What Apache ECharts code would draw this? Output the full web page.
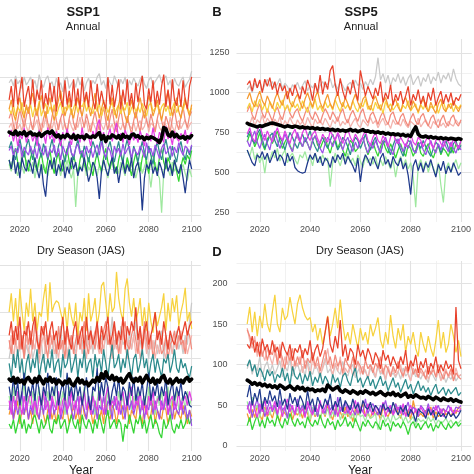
<!DOCTYPE html>
<html><head><meta charset="utf-8">
<script src="https://cdn.jsdelivr.net/npm/echarts@6/dist/echarts.min.js"></script>
<style>html,body{margin:0;padding:0;background:#fff}#c{width:474px;height:474px}</style>
</head><body><div id="c"></div>
<script>
const years = [2015,2016,2017,2018,2019,2020,2021,2022,2023,2024,
2025,2026,2027,2028,2029,2030,2031,2032,2033,2034,
2035,2036,2037,2038,2039,2040,2041,2042,2043,2044,
2045,2046,2047,2048,2049,2050,2051,2052,2053,2054,
2055,2056,2057,2058,2059,2060,2061,2062,2063,2064,
2065,2066,2067,2068,2069,2070,2071,2072,2073,2074,
2075,2076,2077,2078,2079,2080,2081,2082,2083,2084,
2085,2086,2087,2088,2089,2090,2091,2092,2093,2094,
2095,2096,2097,2098,2099,2100];

const xMajorTicks = [2020,2040,2060,2080,2100];
const xMinorTicks = [2030,2050,2070,2090];
const aMajorTicks = [400,600,800,1000];
const aMinorTicks = [500,700,900,1100];
const bMajorTicks = [250,500,750,1000,1250];
const bMinorTicks = [375,625,875,1125];
const cMajorTicks = [50,100,150,200];
const cMinorTicks = [25,75,125,175];
const dMajorTicks = [0,50,100,150,200];
const dMinorTicks = [25,75,125,175,225];

// ---------- Panel A: SSP1 Annual ----------
const A_grey = [975,990,960,1005,970,985,950,1000,965,980, 1000,960,985,945,1010,970,955,990,1005,965, 980,945,995,960,975,935,990,1000,950,970, 985,955,1000,965,990,940,975,995,960,985, 970,1000,1015,965,985,950,995,975,960,1005, 980,955,990,970,1000,945,985,965,995,975, 960,990,1005,970,950,985,1000,960,980,995, 1010,975,990,1005,965,985,950,995,970,960, 985,1000,955,975,990,1025];
const A_red = [900,960,870,990,880,940,1000,870,920,960, 880,990,870,945,900,985,860,930,880,975, 890,960,850,1000,905,870,985,880,940,870, 990,875,950,860,1000,890,935,870,985,900, 860,970,880,940,890,860,1000,880,965,870, 925,990,860,945,880,990,875,930,860,975, 890,955,1005,880,860,950,890,985,870,940, 880,960,1010,870,945,860,990,900,875,950, 870,985,900,860,960,1000];
const A_orange = [860,900,840,810,870,910,850,820,880,840, 900,930,870,830,880,920,860,820,870,910, 850,810,860,900,940,880,830,870,910,850, 820,870,910,860,830,880,920,870,830,880, 930,870,820,860,900,850,810,870,910,860, 820,880,920,870,830,800,860,900,850,820, 870,910,860,820,870,920,880,830,860,900, 850,810,860,900,940,880,830,870,910,850, 820,870,910,860,830,880];
const A_gold = [860,840,880,830,870,850,890,835,865,845, 880,825,870,850,895,830,860,885,840,870, 850,880,830,865,890,840,870,855,880,835, 865,890,845,880,870,895,850,880,860,840, 875,850,885,830,865,880,845,870,890,835, 860,880,840,870,855,890,835,865,880,850, 870,845,885,860,830,875,890,850,865,880, 840,870,885,850,875,830,865,890,845,870, 880,855,890,870,845,865];
const A_salmon = [820,850,790,760,810,860,820,780,830,870, 810,770,830,860,800,760,820,850,800,770, 830,870,810,770,820,850,790,760,820,860, 800,770,830,880,820,780,840,800,760,810, 850,800,770,830,870,810,770,820,860,800, 760,820,860,800,770,830,790,750,810,850, 800,760,820,860,810,780,840,800,760,820, 860,810,770,830,800,760,820,860,800,770, 830,870,810,780,830,850];
const A_pink = [780,800,760,810,775,795,765,820,785,760, 805,770,790,815,760,800,780,825,770,795, 775,810,760,790,820,770,800,760,815,785, 765,800,780,825,770,795,810,760,790,805, 780,760,815,790,770,800,830,775,795,760, 810,785,770,800,760,820,790,775,805,765, 795,810,770,785,820,760,800,790,770,815, 780,765,805,790,770,825,785,760,800,810, 775,795,815,770,790,805];
const A_magenta = [740,770,720,760,700,750,730,780,715,745, 760,720,750,700,770,735,755,710,780,730, 750,715,765,740,700,760,725,775,735,705, 760,730,745,715,780,720,755,740,700,765, 735,790,815,730,760,710,745,775,720,760, 800,730,755,715,770,740,705,760,725,750, 715,765,735,700,755,745,720,780,730,710, 760,740,715,785,730,750,705,765,735,720, 755,730,770,710,745,760];
const A_purple = [680,700,655,690,670,710,650,695,675,660, 700,665,690,645,710,680,660,700,650,685, 670,705,655,690,640,700,675,660,715,670, 655,690,710,665,680,645,700,670,690,650, 685,705,660,720,675,650,695,680,640,700, 670,690,655,710,665,685,700,645,690,675, 660,700,680,650,715,670,690,655,705,675, 645,690,710,665,680,700,655,695,670,715, 680,660,700,690,670,705];
const A_teal = [690,720,670,640,690,730,680,650,700,730, 680,640,700,740,690,650,710,680,640,690, 730,680,650,700,730,670,630,680,720,670, 640,690,730,680,650,700,670,630,680,720, 690,650,700,740,680,640,690,720,670,630, 680,720,660,630,690,730,680,640,700,670, 630,680,720,670,640,700,660,620,680,720, 670,640,690,730,680,640,700,660,630,690, 720,670,640,690,660,700];
const A_navy = [640,600,660,580,630,560,650,610,590,640, 620,580,650,600,560,620,530,480,590,640, 600,650,570,620,590,640,560,610,580,650, 600,630,570,610,590,650,600,545,580,630, 610,560,470,590,640,600,570,620,650,580, 610,540,600,640,580,620,590,650,560,610, 630,580,420,560,620,600,640,580,610,570, 630,600,560,650,590,620,570,640,600,580, 620,560,495,580,640,600];
const A_green = [640,600,660,690,630,600,650,680,620,590, 650,680,620,590,640,670,610,580,640,680, 620,580,640,670,610,590,650,690,630,600, 660,620,580,640,680,620,590,650,610,570, 630,670,620,590,650,690,630,600,650,610, 580,640,680,620,590,650,610,570,630,670, 620,590,650,680,620,580,640,670,610,590, 650,690,630,600,650,620,580,640,590,545, 610,650,620,660,640,680];
const A_lightgreen = [620,590,640,600,570,630,610,580,640,600, 590,630,560,610,640,580,620,600,570,630, 600,640,580,610,570,620,600,640,590,560, 600,435,580,620,600,640,570,610,590,630, 600,570,620,580,640,600,560,610,630,590, 610,580,630,600,570,640,590,620,600,560, 600,630,580,610,640,590,520,600,630,580, 560,410,590,620,600,570,630,590,610,580, 600,620,580,550,600,565];
const A_mean = [760,755,750,765,748,758,752,762,745,755, 760,748,752,745,756,742,750,758,762,755, 765,750,740,748,735,745,738,750,742,735, 748,730,745,738,742,732,748,740,736,744, 738,750,758,730,745,720,740,735,748,742, 735,745,730,750,738,742,733,748,752,740, 745,735,740,728,738,732,740,736,730,725, 715,735,780,775,748,742,760,740,750,738, 735,742,730,740,735,745];

// ---------- Panel B: SSP5 Annual ----------
const B_grey = [1020,1045,1000,1060,1030,1075,1010,1050,1085,1040, 1070,1030,1055,1090,1025,1060,1040,1005,1050,1030, 1065,1020,1045,1075,1010,1050,1030,1060,1000,1045, 1070,1035,1055,1090,1030,1060,1020,1075,1045,1010, 1050,1065,1030,1080,1045,1060,1020,1070,1040,1085, 1050,1100,1220,1080,1120,1060,1110,1040,1095,1070, 1120,1060,1100,1045,1090,1115,1050,1080,1105,1040, 1095,1070,1120,1055,1100,1075,1130,1060,1110,1085, 1125,1070,1150,1090,1055,1040];
const B_red = [1050,1075,1010,1090,1030,1080,1000,1085,1040,1095, 1020,1070,990,1060,1010,1045,960,1030,980,1050, 1000,960,1040,990,1080,1030,950,1060,1000,1110, 990,1070,1020,1140,1170,1050,980,1090,1010,960, 1040,990,1080,1010,950,1140,1060,980,1040,1000, 960,1030,980,1070,940,1000,960,1050,920,990, 950,1010,930,980,1040,920,990,950,1020,930, 980,910,1000,950,1030,920,970,1010,930,990, 940,1000,920,970,950,990];
const B_orange = [960,1000,940,910,970,1010,950,920,980,940, 900,960,1000,950,920,980,1010,940,910,960, 990,940,900,960,1000,950,910,970,1010,940, 900,950,990,930,900,960,1000,940,910,970, 930,890,950,990,940,900,960,980,920,890, 950,980,930,890,940,970,920,880,940,960, 910,880,940,970,920,890,950,910,880,930, 960,910,880,940,900,870,930,960,900,880, 930,900,950,910,880,920];
const B_gold = [900,935,880,950,910,960,890,930,875,945, 915,880,940,900,955,890,925,880,945,905, 930,885,950,910,875,940,900,960,890,920, 880,945,905,930,890,955,915,880,940,900, 925,890,950,905,880,935,910,960,895,920, 885,940,900,925,870,945,905,930,890,915, 935,880,920,900,950,885,910,930,870,925, 895,940,880,915,900,935,870,920,945,890, 910,935,880,920,900,925];
const B_salmon = [880,920,860,830,890,930,870,840,900,860, 820,880,910,860,830,890,920,870,840,880, 900,850,820,870,910,860,830,880,850,810, 860,900,870,830,880,850,820,870,900,840, 810,860,890,850,820,870,900,840,810,860, 880,840,800,850,880,830,800,860,880,830, 800,850,870,820,790,840,870,820,800,850, 870,820,790,840,860,810,780,830,860,810, 790,840,860,810,790,830];
const B_pink = [820,800,850,790,830,810,860,795,840,815, 790,835,805,850,780,825,800,845,810,785, 830,800,820,790,845,810,780,835,805,825, 795,840,810,780,830,805,850,790,820,800, 835,785,815,840,800,780,830,810,790,845, 805,825,780,815,840,795,810,775,830,800, 815,790,835,800,780,820,805,790,840,785, 810,830,795,775,820,800,835,790,810,780, 820,800,790,830,805,815];
const B_magenta = [740,780,720,690,760,800,740,700,760,720, 690,740,780,730,700,760,720,680,740,770, 720,690,750,780,730,700,740,760,710,680, 740,710,690,760,730,700,750,720,680,740, 770,720,690,740,710,680,730,760,700,670, 720,750,700,680,730,700,660,720,750,700, 680,720,690,660,710,740,690,670,720,700, 660,700,730,680,650,700,720,680,660,710, 690,660,710,680,650,700];
const B_purple = [700,660,720,760,690,650,700,740,680,640, 720,760,700,650,690,740,700,660,630,700, 750,700,660,720,680,640,700,730,690,650, 620,680,720,700,660,710,740,680,640,690, 720,670,630,690,650,700,720,660,620,680, 650,700,660,620,690,720,670,640,610,680, 710,660,630,680,650,700,640,620,670,690, 640,610,660,700,650,620,680,640,700,660, 630,690,650,620,670,640];
const B_teal = [720,760,700,680,740,770,710,650,690,730, 745,700,660,720,690,640,700,750,720,680, 650,700,740,690,720,760,700,660,630,690, 720,680,650,700,740,690,640,670,720,700, 660,610,680,720,700,650,690,740,680,640, 690,720,660,620,680,700,650,610,670,710, 680,640,600,660,700,690,640,620,680,650, 700,660,630,600,650,690,670,620,660,700, 650,620,680,700,640,670];
const B_navy = [640,600,560,540,610,590,630,580,620,560, 600,640,570,610,590,540,620,570,600,530, 510,500,495,500,560,610,580,620,560,600, 540,590,570,530,600,560,610,580,620,550, 600,570,540,500,590,440,560,610,580,540, 600,560,520,590,620,550,580,530,600,560, 540,590,520,560,480,360,540,580,510,560, 500,560,530,580,520,470,550,510,570,490, 540,500,560,520,480,500];
const B_green = [690,740,720,660,700,750,680,640,710,730, 680,720,760,700,650,690,720,670,630,700, 740,690,660,710,680,640,700,730,670,650, 690,720,660,620,680,710,650,690,640,600, 660,700,680,630,650,690,720,660,610,650, 690,640,600,660,700,650,620,680,640,590, 640,680,630,600,670,650,600,640,690,620, 600,650,680,620,590,640,670,610,650,630, 600,660,620,680,640,700];
const B_lightgreen = [640,600,660,580,620,560,600,495,610,580, 630,590,650,570,610,640,560,600,620,580, 550,610,590,630,570,600,540,620,580,560, 610,570,590,410,560,620,580,540,600,570, 620,560,590,540,610,570,530,600,560,590, 550,600,530,580,540,600,560,520,580,470, 560,600,540,580,520,560,470,280,540,580, 520,570,500,560,530,480,560,420,310,520, 560,500,540,580,520,560];
const B_mean = [808,800,795,790,785,792,788,795,800,806, 810,805,800,796,790,785,792,788,783,790, 786,780,785,778,782,776,780,772,778,770, 775,768,772,765,770,762,768,760,765,758, 762,770,760,765,755,762,768,758,760,752, 756,748,754,745,750,740,746,738,742,735, 740,732,738,728,734,726,760,785,740,725, 722,728,718,724,715,720,712,718,710,715, 708,714,710,706,712,708];

// ---------- Panel C: SSP1 Dry Season (JAS) ----------
const C_gold = [150,170,140,165,135,175,150,130,160,145, 175,140,160,130,150,145,165,180,140,182, 150,158,162,160,150,140,155,130,160,145, 135,160,125,150,140,165,130,170,140,150, 165,135,150,178,182,160,140,170,150,155, 193,165,150,140,175,186,160,145,165,140, 150,165,135,155,130,160,140,128,150,135, 145,155,170,130,160,140,165,150,168,135, 150,160,176,140,150,132];
const C_red = [125,140,115,135,120,145,110,130,125,140, 115,135,145,120,110,135,125,140,115,130, 140,120,130,110,125,145,115,135,120,110, 130,140,115,125,135,110,145,120,130,115, 125,140,110,135,120,130,145,115,125,140, 115,130,120,145,110,135,125,140,130,155, 120,135,110,130,140,115,125,135,150,120, 130,115,140,125,110,130,120,115,125,135, 120,130,140,125,135,140];
const C_salmon = [120,105,130,115,140,110,125,100,135,115, 130,110,140,120,105,125,135,115,100,130, 115,125,105,135,110,120,100,130,115,125, 105,120,130,110,125,140,115,105,130,120, 110,135,120,105,130,140,115,125,110,135, 125,105,120,130,140,115,110,125,135,120, 105,130,115,140,120,110,125,100,115,130, 120,105,110,125,100,115,120,130,110,125, 115,120,105,130,125,110];
const C_pink = [110,125,100,120,105,130,115,100,125,110, 100,120,110,130,95,115,125,105,120,110, 125,105,115,100,120,110,130,100,115,125, 110,100,120,130,105,115,100,125,110,120, 130,115,105,120,110,125,135,115,100,120, 110,125,105,130,115,100,120,110,125,105, 120,100,115,125,105,130,110,120,100,115, 105,125,110,100,120,115,105,125,110,120, 130,110,120,105,115,125];
const C_grey = [100,115,95,120,105,110,125,100,115,105, 120,100,110,130,105,120,95,115,125,105, 110,125,100,115,135,105,120,110,100,125, 115,105,130,110,120,100,125,115,135,105, 120,140,110,125,105,130,115,120,145,110, 125,105,135,115,120,100,130,110,125,140, 110,120,105,130,115,100,125,110,120,105, 115,130,100,120,110,125,105,115,130,110, 120,105,125,115,140,160];
const C_teal = [95,80,105,90,110,85,100,75,95,105, 85,100,90,110,80,95,105,85,100,90, 110,85,95,100,80,105,90,95,110,85, 95,105,80,100,90,110,85,95,100,80, 105,90,100,85,110,95,80,100,115,90, 95,105,85,100,90,110,95,80,100,105, 85,95,110,90,100,80,95,105,85,100, 90,80,100,95,105,85,95,110,90,85, 100,90,95,85,80,92];
const C_navy = [70,55,80,60,75,50,65,85,55,70, 60,75,55,80,65,50,70,60,85,55, 70,60,80,50,65,75,55,85,60,70, 55,75,60,70,50,65,80,55,45,70, 65,90,55,75,60,80,70,50,65,75, 60,80,55,70,65,50,75,60,80,55, 70,60,75,50,65,85,55,70,60,75, 55,70,60,80,50,65,75,55,70,60, 75,55,65,60,50,48];
const C_magenta = [55,40,60,45,65,50,40,60,45,55, 65,45,55,40,60,50,65,45,55,40, 60,50,45,65,40,55,60,45,50,65, 45,55,40,60,50,65,45,55,40,60, 50,45,65,55,40,60,70,45,55,50, 60,40,55,65,45,50,60,70,45,55, 50,65,45,55,40,60,50,65,45,55, 60,45,50,65,40,55,60,45,50,65, 45,55,60,50,65,55];
const C_purple = [45,60,35,55,40,50,65,40,55,35, 50,40,60,45,35,55,40,60,50,35, 55,40,50,60,35,45,55,40,65,45, 35,50,60,40,55,45,35,60,50,40, 55,35,50,45,60,40,55,50,35,60, 45,55,40,50,35,60,45,55,40,50, 60,40,55,35,50,45,60,40,55,45, 35,55,45,60,40,50,35,55,45,40, 55,40,50,35,45,28];
const C_orange = [40,50,35,45,55,30,45,40,50,35, 45,30,50,40,35,55,40,30,45,50, 35,45,30,50,40,35,55,45,30,40, 50,35,45,30,55,40,35,50,45,30, 40,50,35,45,30,55,40,35,50,45, 30,45,55,35,40,50,30,45,40,35, 55,40,30,50,45,35,40,55,30,45, 40,35,50,45,30,40,55,35,45,40, 35,50,40,30,45,38];
const C_green = [30,25,35,20,30,40,25,35,20,30, 25,35,40,30,20,35,25,30,40,25, 20,35,30,40,25,30,35,20,30,40, 30,25,35,20,40,30,25,35,30,20, 35,25,40,30,20,35,45,25,30,35, 25,35,30,11,30,25,40,30,20,35, 30,40,25,35,20,30,40,25,35,30, 20,15,35,25,30,40,25,20,30,25, 35,25,30,40,30,35];
const C_lightgreen = [60,45,70,50,65,40,55,75,45,60, 50,65,40,55,70,45,60,50,65,40, 55,70,45,60,50,65,40,55,70,45, 60,50,65,40,55,70,45,60,50,65, 40,55,70,45,60,50,65,40,55,60, 45,65,50,60,40,55,70,45,60,50, 65,40,55,60,45,70,50,55,40,60, 50,65,45,55,70,40,60,50,65,45, 55,60,45,65,50,58];
const C_mean = [78,76,80,74,79,75,77,73,78,80, 76,74,79,75,81,77,73,78,76,80, 75,78,73,77,75,72,76,74,78,73, 71,75,79,74,77,73,75,71,74,77, 75,80,76,84,79,86,80,78,82,77, 80,76,79,74,77,81,84,78,75,79, 76,80,74,78,82,77,75,79,73,77, 75,80,82,76,74,78,73,76,79,75, 77,74,78,80,76,78];

// ---------- Panel D: SSP5 Dry Season (JAS) ----------
const D_gold = [150,171,140,165,135,160,145,175,150,140, 165,186,150,140,170,155,160,183,165,150, 175,186,170,160,155,158,140,150,130,145, 125,140,160,135,150,170,145,180,150,130, 140,125,150,135,120,145,130,140,125,150, 135,145,158,130,120,140,125,161,135,120, 145,130,150,115,135,125,140,120,110,140, 125,115,135,120,110,130,155,120,140,115, 125,150,135,115,130,110];
const D_red = [125,120,135,115,128,110,132,118,125,112, 130,115,122,108,128,118,112,125,105,120, 115,125,108,120,112,130,105,118,125,110, 120,140,159,125,115,135,120,155,110,125, 105,120,115,100,125,110,118,105,120,112, 100,115,108,95,118,105,112,98,110,102, 95,110,100,118,92,105,98,112,90,104, 96,108,88,102,95,110,90,100,92,105, 95,100,88,171,105,95];
const D_salmon = [143,135,125,130,115,128,110,122,105,118, 112,125,100,118,108,95,115,105,120,98, 110,100,118,95,108,102,115,98,110,92, 105,118,100,110,95,112,98,105,90,108, 100,95,110,92,104,98,88,106,95,100, 90,102,96,110,88,100,94,85,98,90, 104,92,86,98,90,102,88,95,84,96, 90,82,98,88,94,85,100,90,82,92, 86,95,80,90,85,82];
const D_pink = [145,130,120,135,110,125,115,105,120,110, 100,115,105,125,95,110,100,118,92,105, 98,110,90,105,100,85,108,95,102,88, 95,105,120,98,88,102,92,110,85,96, 90,100,86,95,105,88,98,92,84,100, 95,85,102,90,96,82,98,88,94,86, 92,100,84,95,88,80,96,90,85,92, 86,94,82,90,98,84,92,80,88,95, 84,90,82,96,85,88];
const D_grey = [95,105,88,100,92,110,85,98,104,90, 100,88,96,105,85,98,92,108,86,95, 102,90,98,85,106,92,88,100,94,84, 98,108,90,95,86,100,92,88,104,90, 86,96,100,84,92,98,88,94,82,96, 90,84,98,88,92,80,95,86,90,84, 92,82,96,86,90,80,94,85,88,82, 90,84,78,92,86,80,94,82,88,78, 86,82,90,80,85,88];
const D_teal = [98,106,92,100,85,96,90,80,94,86, 92,78,88,84,96,80,90,74,98,86, 82,90,76,88,80,92,74,85,78,90, 76,86,80,70,88,78,84,72,86,90, 80,74,88,96,78,84,72,80,86,74, 82,70,78,86,74,80,68,76,84,72, 78,66,74,82,70,76,64,72,80,68, 74,66,72,62,70,76,64,68,72,62, 70,64,68,72,62,66];
const D_navy = [60,75,50,65,55,70,45,60,52,68, 55,62,48,70,50,58,45,65,52,60, 48,62,55,45,68,50,58,42,60,52, 46,58,50,64,44,55,48,60,42,56, 50,44,58,46,52,40,56,48,45,54, 42,50,46,38,52,44,48,40,54,45, 38,48,42,50,36,45,40,30,46,42, 40,34,46,38,44,32,42,36,40,34, 42,36,40,34,38,44];
const D_magenta = [50,40,55,45,35,52,42,58,38,48, 44,55,40,50,36,48,58,42,50,38, 52,40,46,35,55,44,38,50,42,56, 40,48,54,38,46,52,36,48,44,40, 50,38,46,56,40,48,42,36,52,44, 38,50,44,40,54,36,46,50,38,44, 48,40,52,36,44,50,38,46,40,48, 42,36,48,44,38,50,40,46,36,44, 40,48,38,44,42,46];
const D_purple = [45,55,35,48,58,40,52,36,46,56, 42,50,38,56,44,48,34,52,46,40, 58,44,50,38,46,54,40,48,36,52, 46,40,56,44,50,38,60,42,48,54, 40,50,44,38,54,46,42,58,40,48, 52,44,38,50,46,56,42,48,40,52, 44,50,38,46,54,40,48,44,36,50, 46,40,52,38,48,44,50,40,46,42, 50,44,40,48,46,50];
const D_orange = [40,30,45,35,50,38,32,48,36,42, 34,46,38,30,44,40,36,50,32,42, 38,44,34,48,40,30,46,36,42,34, 44,36,50,40,32,46,38,42,34,48, 36,42,30,46,38,44,52,36,40,34, 46,38,42,32,48,40,36,44,38,52, 40,34,46,38,44,32,56,42,36,40, 36,44,38,48,34,42,36,40,46,38, 42,36,44,40,48,46];
const D_green = [25,35,20,30,38,24,32,22,36,28, 32,24,38,28,22,34,26,40,30,24, 34,26,30,22,36,28,24,32,26,38, 28,22,34,26,30,20,32,24,28,36, 24,30,22,34,26,18,30,24,32,26, 22,30,26,20,32,24,28,18,30,24, 28,22,30,24,14,26,30,22,28,20, 26,30,22,28,18,26,22,30,24,20, 28,22,26,30,24,28];
const D_lightgreen = [55,40,60,45,50,35,55,42,48,38, 50,44,36,52,40,46,34,50,42,38, 46,36,52,40,44,32,48,38,42,35, 44,38,46,34,42,36,48,32,40,38, 42,34,40,30,44,36,38,30,42,34, 36,40,20,34,38,30,36,28,40,32, 34,38,30,36,28,32,36,26,34,30, 32,28,36,30,34,26,32,28,30,34, 28,32,26,30,28,32];
const D_mean = [81,79,76,78,75,77,74,76,73,75, 72,74,71,75,73,70,72,74,71,69, 73,70,72,68,71,69,70,67,69,68, 70,67,75,72,69,71,73,68,66,69, 67,65,68,66,64,67,65,68,66,64, 66,63,65,67,64,62,65,63,66,62, 64,61,63,65,60,62,60,63,61,59, 60,58,61,59,57,60,58,56,59,57, 56,58,55,57,55,54];

const modelColors = {
  grey:'#c9c9c9', pink:'#f3b3ad', salmon:'#f2897b', gold:'#f7d23e', orange:'#f59a30',
  red:'#e8412b', lightgreen:'#9fe89f', green:'#33d433', teal:'#2b8a8c',
  purple:'#9b50e6', magenta:'#e33de3', navy:'#1f3a8c'
};
const drawOrder = ['grey','pink','salmon','gold','orange','red','lightgreen','green','teal','purple','magenta','navy'];

const panelData = [
  {grey:A_grey,pink:A_pink,salmon:A_salmon,gold:A_gold,orange:A_orange,red:A_red,lightgreen:A_lightgreen,green:A_green,teal:A_teal,purple:A_purple,magenta:A_magenta,navy:A_navy,mean:A_mean},
  {grey:B_grey,pink:B_pink,salmon:B_salmon,gold:B_gold,orange:B_orange,red:B_red,lightgreen:B_lightgreen,green:B_green,teal:B_teal,purple:B_purple,magenta:B_magenta,navy:B_navy,mean:B_mean},
  {grey:C_grey,pink:C_pink,salmon:C_salmon,gold:C_gold,orange:C_orange,red:C_red,lightgreen:C_lightgreen,green:C_green,teal:C_teal,purple:C_purple,magenta:C_magenta,navy:C_navy,mean:C_mean},
  {grey:D_grey,pink:D_pink,salmon:D_salmon,gold:D_gold,orange:D_orange,red:D_red,lightgreen:D_lightgreen,green:D_green,teal:D_teal,purple:D_purple,magenta:D_magenta,navy:D_navy,mean:D_mean}
];

const FONT = 'Liberation Sans, Arial, Helvetica, sans-serif';
const grids = [
  {left:-37.6, top:39, width:238.4, height:183},
  {left:236.5, top:39, width:247.8, height:183},
  {left:-37.6, top:261, width:238.4, height:190},
  {left:236.5, top:261, width:247.8, height:190}
];
const yCfg = [
  {min:369.6, max:1165, major:aMajorTicks, minor:aMinorTicks, labels:false, margin:7},
  {min:187.5, max:1337.5, major:bMajorTicks, minor:bMinorTicks, labels:true, margin:7},
  {min:1.07, max:204.7, major:cMajorTicks, minor:cMinorTicks, labels:false, margin:9},
  {min:-6.15, max:227.5, major:dMajorTicks, minor:dMinorTicks, labels:true, margin:9}
];
const plain = v => String(Math.round(v));

const xAxes = [], yAxes = [], series = [];
grids.forEach((g, gi) => {
  xAxes.push({gridIndex:gi, type:'value', min:2010.75, max:2104.25,
    axisLine:{show:false}, axisTick:{show:false, customValues:xMajorTicks},
    axisLabel:{customValues:xMajorTicks, formatter:plain, fontSize:9, color:'#4d4d4d', fontFamily:FONT, margin:3},
    splitLine:{show:true, lineStyle:{color:'#e2e2e2', width:1.1}}});
  xAxes.push({gridIndex:gi, type:'value', min:2010.75, max:2104.25,
    axisLine:{show:false}, axisTick:{show:false, customValues:xMinorTicks},
    axisLabel:{show:false, customValues:xMinorTicks},
    splitLine:{show:true, lineStyle:{color:'#ededed', width:0.8}}});
  const yc = yCfg[gi];
  yAxes.push({gridIndex:gi, type:'value', min:yc.min, max:yc.max,
    axisLine:{show:false}, axisTick:{show:false, customValues:yc.major},
    axisLabel:{show:yc.labels, customValues:yc.major, formatter:plain, fontSize:9, color:'#4d4d4d', fontFamily:FONT, margin:yc.margin},
    splitLine:{show:true, lineStyle:{color:'#e2e2e2', width:1.1}}});
  yAxes.push({gridIndex:gi, type:'value', min:yc.min, max:yc.max,
    axisLine:{show:false}, axisTick:{show:false, customValues:yc.minor},
    axisLabel:{show:false, customValues:yc.minor},
    splitLine:{show:true, lineStyle:{color:'#ededed', width:0.8}}});
  const pd = panelData[gi];
  drawOrder.forEach(name => {
    series.push({type:'line', name:name, xAxisIndex:gi*2, yAxisIndex:gi*2,
      data: years.map((yr,i)=>[yr, pd[name][i]]), showSymbol:false, symbol:'none',
      lineStyle:{width:1.25, color:modelColors[name]}, itemStyle:{color:modelColors[name]},
      silent:true, animation:false, z:2});
  });
  series.push({type:'line', name:'mean', xAxisIndex:gi*2, yAxisIndex:gi*2,
    data: years.map((yr,i)=>[yr, pd.mean[i]]), showSymbol:false, symbol:'none',
    lineStyle:{width:3.6, color:'#000000', join:'round', cap:'round'}, itemStyle:{color:'#000'},
    silent:true, animation:false, z:3});
});

function txt(x, y, text, size, bold, color) {
  return {type:'text', x:x, y:y, silent:true,
    style:{text:text, x:0, y:0, align:'center', verticalAlign:'middle',
      font:(bold?'bold ':'') + size + 'px ' + FONT, fill:color || '#1a1a1a'}};
}

const chart = echarts.init(document.getElementById('c'), null, {renderer:'canvas'});
chart.setOption({
  animation:false,
  backgroundColor:'#ffffff',
  grid: grids,
  xAxis: xAxes,
  yAxis: yAxes,
  series: series,
  graphic: [
    txt(83, 12, 'SSP1', 13, true),
    txt(217, 12, 'B', 13, true),
    txt(361, 12, 'SSP5', 13, true),
    txt(83, 27, 'Annual', 11, false, '#222'),
    txt(361, 27, 'Annual', 11, false, '#222'),
    txt(81, 251, 'Dry Season (JAS)', 11, false, '#222'),
    txt(217, 252, 'D', 13, true),
    txt(360, 251, 'Dry Season (JAS)', 11, false, '#222'),
    txt(81, 471, 'Year', 12, false, '#1a1a1a'),
    txt(360, 471, 'Year', 12, false, '#1a1a1a')
  ]
});
</script>
</body></html>
